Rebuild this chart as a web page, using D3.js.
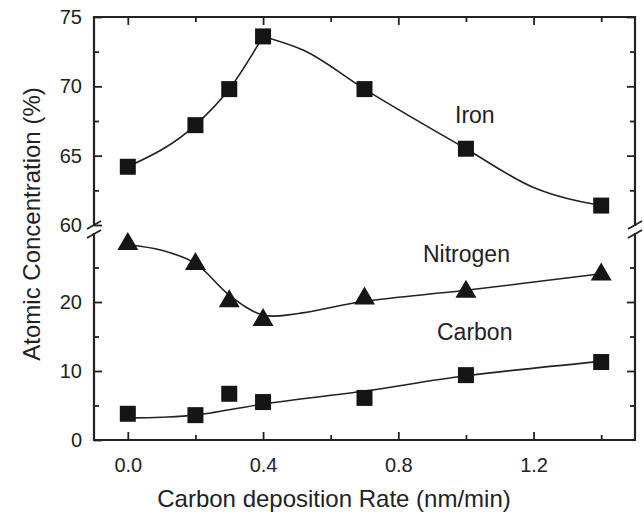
<!DOCTYPE html>
<html>
<head>
<meta charset="utf-8">
<script src="https://cdn.jsdelivr.net/npm/d3@7/dist/d3.min.js"></script>
<style>
  body { margin: 0; background: #fff; }
  svg { font-family: "Liberation Sans", Arial, sans-serif; }
  .tick text { font-size: 20px; fill: #222; }
  .label { font-size: 23px; fill: #222; }
  .title { font-size: 24px; fill: #222; }
</style>
</head>
<body>
<svg width="644" height="513"></svg>
<script>
// measured points
const rates = [0.0, 0.2, 0.3, 0.4, 0.7, 1.0, 1.4];
const iron = [64.2, 67.2, 69.8, 73.6, 69.8, 65.5, 61.4];
const nitrogen = [28.4, 25.5, 20.1, 17.4, 20.5, 21.5, 24.0];
const carbon = [3.8, 3.6, 6.7, 5.5, 6.1, 9.4, 11.3];

// guide curves
const ironRiseX = [0.0, 0.2, 0.3, 0.4];
const ironRiseY = [64.2, 67.2, 69.8, 73.6];
const ironFallX = [0.4, 0.52, 0.7, 1.0, 1.2, 1.4];
const ironFallY = [73.6, 72.6, 69.8, 65.5, 62.7, 61.4];
const nitrogenFitX = [0.0, 0.1, 0.2, 0.3, 0.4, 0.5, 0.7, 1.0, 1.4];
const nitrogenFitY = [28.3, 27.5, 25.6, 21.0, 18.1, 18.3, 20.1, 21.7, 24.1];
const carbonFitX = [0.0, 0.1, 0.2, 0.4, 0.7, 1.0, 1.4];
const carbonFitY = [3.2, 3.3, 3.6, 5.2, 7.1, 9.3, 11.4];

const xMajor = [0.0, 0.4, 0.8, 1.2];
const xMinor = [0.2, 0.6, 1.0, 1.4];
const upperMajor = [60, 65, 70, 75];
const upperMinor = [62.5, 67.5, 72.5];
const lowerMajor = [0, 10, 20];
const lowerMinor = [5, 15, 25];

const svg = d3.select('svg');
const pLeft = 94, pRight = 635, pTop = 17, pBottom = 440;
const breakTop = 226, breakBottom = 233;

const x = d3.scaleLinear().domain([-0.1, 1.5]).range([pLeft, pRight]);
const yUp = d3.scaleLinear().domain([60, 75]).range([225, pTop]);
const yLow = d3.scaleLinear().domain([0, 30]).range([pBottom, breakBottom]);

// axes with inward ticks
function addAxis(axis, tx, ty, showLabels) {
    const g = svg.append('g').attr('transform', `translate(${tx},${ty})`).call(axis);
    g.select('.domain').remove();
    g.selectAll('.tick line').attr('stroke', '#222').attr('stroke-width', 1.8);
    if (!showLabels) g.selectAll('.tick text').remove();
    return g;
}

addAxis(d3.axisBottom(x).tickValues(xMajor).tickFormat(d3.format('.1f')).tickSize(-8).tickPadding(18), 0, pBottom, true);
addAxis(d3.axisBottom(x).tickValues(xMinor).tickSize(-5), 0, pBottom, false);
addAxis(d3.axisTop(x).tickValues(xMajor).tickSize(-8), 0, pTop, false);
addAxis(d3.axisTop(x).tickValues(xMinor).tickSize(-5), 0, pTop, false);

addAxis(d3.axisLeft(yUp).tickValues(upperMajor).tickSize(-8).tickPadding(12), pLeft, 0, true);
addAxis(d3.axisLeft(yUp).tickValues(upperMinor).tickSize(-5), pLeft, 0, false);
addAxis(d3.axisLeft(yLow).tickValues(lowerMajor).tickSize(-8).tickPadding(12), pLeft, 0, true);
addAxis(d3.axisLeft(yLow).tickValues(lowerMinor).tickSize(-5), pLeft, 0, false);

addAxis(d3.axisRight(yUp).tickValues(upperMajor.filter(d => d !== 60)).tickSize(-8), pRight, 0, false);
addAxis(d3.axisRight(yUp).tickValues(upperMinor).tickSize(-5), pRight, 0, false);
addAxis(d3.axisRight(yLow).tickValues(lowerMajor.filter(d => d !== 0)).tickSize(-8), pRight, 0, false);
addAxis(d3.axisRight(yLow).tickValues(lowerMinor).tickSize(-5), pRight, 0, false);

// frame with broken y axes
const frame = svg.append('g').attr('stroke', '#222').attr('stroke-width', 2.2).attr('fill', 'none');
frame.append('path').attr('d', `M${pLeft},${breakTop}V${pTop}H${pRight}V${breakTop}`);
frame.append('path').attr('d', `M${pLeft},${breakBottom}V${pBottom}H${pRight}V${breakBottom}`);
[pLeft, pRight].forEach(px => {
    [breakTop - 1, breakBottom + 1].forEach(py => {
        frame.append('line')
            .attr('x1', px - 7).attr('y1', py + 4)
            .attr('x2', px + 7).attr('y2', py - 4)
            .attr('stroke-width', 1.8);
    });
});

// curves
const smooth = d3.line().curve(d3.curveCatmullRom.alpha(0.5));
const mono = d3.line().curve(d3.curveMonotoneX);
function drawCurve(gen, xs, ys, yScale) {
    svg.append('path')
        .attr('d', gen(xs.map((d, i) => [x(d), yScale(ys[i])])))
        .attr('fill', 'none')
        .attr('stroke', '#222')
        .attr('stroke-width', 1.6);
}
drawCurve(mono, ironRiseX, ironRiseY, yUp);
drawCurve(mono, ironFallX, ironFallY, yUp);
drawCurve(smooth, nitrogenFitX, nitrogenFitY, yLow);
drawCurve(smooth, carbonFitX, carbonFitY, yLow);

// markers
const sq = 16;
function drawSquares(vals, yScale) {
    svg.append('g').selectAll('rect')
        .data(vals)
        .enter()
        .append('rect')
        .attr('x', (d, i) => x(rates[i]) - sq / 2)
        .attr('y', d => yScale(d) - sq / 2)
        .attr('width', sq)
        .attr('height', sq)
        .attr('fill', '#151515');
}
drawSquares(iron, yUp);
drawSquares(carbon, yLow);

svg.append('g').selectAll('path')
    .data(nitrogen)
    .enter()
    .append('path')
    .attr('transform', (d, i) => `translate(${x(rates[i])},${yLow(d)})`)
    .attr('d', 'M0,-12L10.5,6L-10.5,6Z')
    .attr('fill', '#151515');

// series labels
svg.append('text').attr('class', 'label').attr('x', 455).attr('y', 123).text('Iron');
svg.append('text').attr('class', 'label').attr('x', 423).attr('y', 262).text('Nitrogen');
svg.append('text').attr('class', 'label').attr('x', 437).attr('y', 340).text('Carbon');

// axis titles
svg.append('text')
    .attr('class', 'title')
    .attr('x', 334).attr('y', 507)
    .attr('text-anchor', 'middle')
    .text('Carbon deposition Rate (nm/min)');
svg.append('text')
    .attr('class', 'title')
    .attr('transform', 'translate(40,224) rotate(-90)')
    .attr('text-anchor', 'middle')
    .text('Atomic Concentration (%)');
</script>
</body>
</html>
